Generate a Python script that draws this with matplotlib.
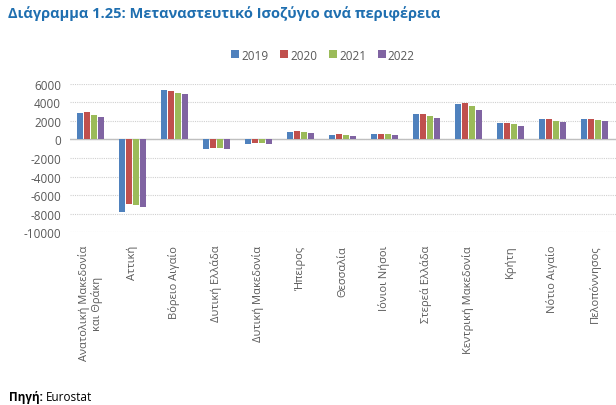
import matplotlib
matplotlib.use("Agg")
import matplotlib.pyplot as plt
import numpy as np

categories = ["Ανατολική Μακεδονία\nκαι Θράκη", "Αττική", "Βόρειο Αιγαίο", "Δυτική Ελλάδα",
              "Δυτική Μακεδονία", "Ήπειρος", "Θεσσαλία", "Ιόνιοι Νήσοι", "Στερεά Ελλάδα",
              "Κεντρική Μακεδονία", "Κρήτη", "Νότιο Αιγαίο", "Πελοπόννησος"]
years = ["2019", "2020", "2021", "2022"]
v2019 = [2840, -7850, 5300, -1050, -470, 820, 470, 540, 2720, 3860, 1790, 2180, 2180]
v2020 = [2900, -6900, 5200, -930, -360, 860, 540, 600, 2750, 3960, 1820, 2180, 2250]
v2021 = [2620, -7100, 4980, -930, -390, 820, 430, 540, 2540, 3570, 1640, 2000, 2110]
v2022 = [2400, -7260, 4840, -1040, -500, 720, 320, 500, 2360, 3130, 1460, 1890, 1960]
series = [v2019, v2020, v2021, v2022]
colors = ["#4F81BD", "#C0504D", "#9BBB59", "#8064A2"]
yticks = [6000, 4000, 2000, 0, -2000, -4000, -6000, -8000, -10000]

plt.rcParams['font.family'] = ['Open Sans', 'DejaVu Sans']

fig = plt.figure(figsize=(6.16, 4.06), dpi=100)
ax = fig.add_axes([69.5/616, 1-233.3/406, 546/616, (233.3-84.7)/406])

x = np.arange(len(categories))
pitch = 0.172
width = 0.145
for i, (vals, c, yr) in enumerate(zip(series, colors, years)):
    ax.bar(x + (i - 1.5) * pitch, vals, width=width, color=c, label=yr, zorder=3)

ax.set_xlim(-0.5, len(categories) - 0.5)
ax.set_ylim(-10000, 6000)
ax.set_yticks(yticks)
ax.set_yticklabels([str(t) for t in yticks], fontsize=8.5, color="#595959")
ax.grid(axis='y', color="#D0D0D0", linestyle=(0, (1, 1)), linewidth=0.8, zorder=0)
ax.axhline(0, color="#BFBFBF", linewidth=1, zorder=2)
for s in ax.spines.values():
    s.set_visible(False)
ax.tick_params(axis='both', length=0)
ax.tick_params(axis='y', pad=6)
ax.set_xticks(x)
ax.set_xticklabels(categories, rotation=90, fontsize=8, color="#595959",
                   va='top', ha='center', multialignment='center')
ax.tick_params(axis='x', pad=9)

leg = fig.legend(loc='center', bbox_to_anchor=(323/616, 1-56/406), ncol=4, frameon=False,
                 fontsize=8.5, handlelength=0.65, handleheight=0.65, handletextpad=0.2,
                 columnspacing=1.0, labelcolor="#595959")

fig.text(8/616, 1-14/406, "Διάγραμμα 1.25: Μεταναστευτικό Ισοζύγιο ανά περιφέρεια",
         fontsize=10.5, fontweight='bold', color="#1F6FB0", va='center', ha='left')

t1 = fig.text(9/616, 1-398/406, "Πηγή:", fontsize=8.5, fontweight='bold', color="#000000",
              va='center', ha='left')
fig.canvas.draw()
bb = t1.get_window_extent()
fig.text((bb.x1 + 3)/616, 1-398/406, "Eurostat", fontsize=8.5, color="#000000",
         va='center', ha='left')

fig.savefig("out.png", dpi=100)
